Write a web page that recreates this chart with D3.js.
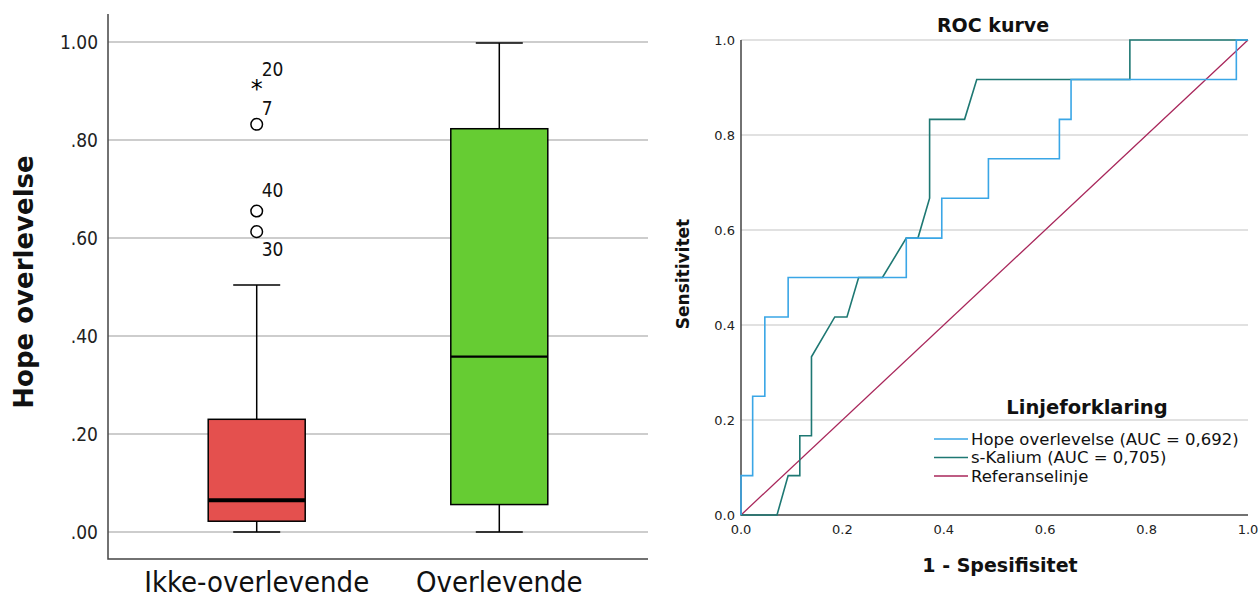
<!DOCTYPE html>
<html>
<head>
<meta charset="utf-8">
<script src="https://cdn.jsdelivr.net/npm/d3@7"></script>
<style>
  body { margin: 0; background: #fff; }
  svg { display: block; }
</style>
</head>
<body>
<div class="chart"></div>
<script>
// box plot data
const groups = ["Ikke-overlevende", "Overlevende"];
const groupColors = ["#e4504e", "#66cc33"];
const whiskerLow = [0.0, 0.0];
const q1 = [0.022, 0.056];
const median = [0.065, 0.358];
const q3 = [0.230, 0.823];
const whiskerHigh = [0.504, 0.998];

const outlierValues = [0.908, 0.832, 0.655, 0.613];
const outlierLabels = ["20", "7", "40", "30"];
const outlierKinds = ["extreme", "out", "out", "out"];

// ROC data
const hopeFpr = [0, 0, 0.023, 0.023, 0.047, 0.047, 0.093, 0.093, 0.326, 0.326, 0.396, 0.396, 0.488, 0.488, 0.628, 0.628, 0.651, 0.651, 0.977, 0.977, 1];
const hopeTpr = [0, 0.083, 0.083, 0.25, 0.25, 0.417, 0.417, 0.5, 0.5, 0.583, 0.583, 0.667, 0.667, 0.75, 0.75, 0.833, 0.833, 0.917, 0.917, 1, 1];
const kaliumFpr = [0, 0.071, 0.093, 0.116, 0.116, 0.139, 0.139, 0.185, 0.209, 0.232, 0.279, 0.326, 0.349, 0.372, 0.372, 0.441, 0.465, 0.767, 0.767, 1];
const kaliumTpr = [0, 0, 0.083, 0.083, 0.167, 0.167, 0.333, 0.417, 0.417, 0.5, 0.5, 0.583, 0.583, 0.667, 0.833, 0.833, 0.917, 0.917, 1, 1];
const refFpr = [0, 1];
const refTpr = [0, 1];

const legendLabels = ["Hope overlevelse (AUC = 0,692)", "s-Kalium (AUC = 0,705)", "Referanselinje"];
const lineColors = ["#3aa6e6", "#1e7873", "#a8265a"];

const width = 1260, height = 600;
const svg = d3.select(".chart").append("svg")
    .attr("width", width)
    .attr("height", height);

const condensed = "'DejaVu Sans Condensed', 'DejaVu Sans', sans-serif";
const sans = "'DejaVu Sans', sans-serif";

// ---------- left: box plot ----------
const left = {x0: 108, x1: 648, top: 14, bottom: 559};
const yL = d3.scaleLinear().domain([0, 1]).range([532, 42]);
const xL = d3.scalePoint().domain(groups).range([left.x0, left.x1]).padding(0.613);

const gL = svg.append("g");

gL.selectAll("line.grid")
    .data(yL.ticks(5))
    .join("line")
    .attr("class", "grid")
    .attr("x1", left.x0).attr("x2", left.x1)
    .attr("y1", d => yL(d)).attr("y2", d => yL(d))
    .attr("stroke", "#bdbdbd")
    .attr("stroke-width", 1.5);

gL.selectAll("text.tick")
    .data(yL.ticks(5))
    .join("text")
    .attr("class", "tick")
    .attr("x", left.x0 - 10)
    .attr("y", d => yL(d))
    .attr("dy", "0.35em")
    .attr("text-anchor", "end")
    .attr("font-family", condensed)
    .attr("font-size", 19)
    .attr("fill", "#222")
    .text(d => d3.format(".2f")(d).replace(/^0/, ""));

gL.append("path")
    .attr("d", `M${left.x0},${left.top}V${left.bottom}H${left.x1}`)
    .attr("fill", "none")
    .attr("stroke", "#444")
    .attr("stroke-width", 1.5);

const boxW = 97, capW = 47;
groups.forEach((g, i) => {
    const cx = xL(g);
    gL.append("line")
        .attr("x1", cx).attr("x2", cx)
        .attr("y1", yL(whiskerLow[i])).attr("y2", yL(whiskerHigh[i]))
        .attr("stroke", "#000").attr("stroke-width", 1.5);
    [whiskerLow[i], whiskerHigh[i]].forEach(v => {
        gL.append("line")
            .attr("x1", cx - capW / 2).attr("x2", cx + capW / 2)
            .attr("y1", yL(v)).attr("y2", yL(v))
            .attr("stroke", "#000").attr("stroke-width", 1.5);
    });
    gL.append("rect")
        .attr("x", cx - boxW / 2)
        .attr("y", yL(q3[i]))
        .attr("width", boxW)
        .attr("height", yL(q1[i]) - yL(q3[i]))
        .attr("fill", groupColors[i])
        .attr("stroke", "#000")
        .attr("stroke-width", 1.5);
    gL.append("line")
        .attr("x1", cx - boxW / 2).attr("x2", cx + boxW / 2)
        .attr("y1", yL(median[i])).attr("y2", yL(median[i]))
        .attr("stroke", "#000")
        .attr("stroke-width", i === 0 ? 4 : 2.2);
    gL.append("text")
        .attr("x", cx)
        .attr("y", 592)
        .attr("text-anchor", "middle")
        .attr("font-family", condensed)
        .attr("font-size", 29)
        .attr("fill", "#111")
        .text(g);
});

// outliers (all in first group)
const ox = xL(groups[0]);
const labelDy = [-18, -16, -21, 18];
outlierValues.forEach((v, i) => {
    if (outlierKinds[i] === "extreme") {
        gL.append("text")
            .attr("x", ox).attr("y", yL(v) + 10)
            .attr("text-anchor", "middle")
            .attr("font-family", sans)
            .attr("font-size", 24)
            .text("*");
    } else {
        gL.append("circle")
            .attr("cx", ox).attr("cy", yL(v))
            .attr("r", 5.8)
            .attr("fill", "#fff")
            .attr("stroke", "#000")
            .attr("stroke-width", 1.5);
    }
    gL.append("text")
        .attr("x", ox + 5)
        .attr("y", yL(v) + labelDy[i])
        .attr("dy", "0.35em")
        .attr("font-family", condensed)
        .attr("font-size", 19)
        .attr("fill", "#111")
        .text(outlierLabels[i]);
});

gL.append("text")
    .attr("transform", "translate(33,282) rotate(-90)")
    .attr("text-anchor", "middle")
    .attr("font-family", sans)
    .attr("font-weight", "bold")
    .attr("font-size", 26)
    .attr("fill", "#111")
    .text("Hope overlevelse");

// ---------- right: ROC curve ----------
const xR = d3.scaleLinear().domain([0, 1]).range([741, 1248]);
const yR = d3.scaleLinear().domain([0, 1]).range([515, 40]);
const gR = svg.append("g");

gR.selectAll("line.grid")
    .data(yR.ticks(5).filter(d => d > 0))
    .join("line")
    .attr("class", "grid")
    .attr("x1", xR(0)).attr("x2", xR(1))
    .attr("y1", d => yR(d)).attr("y2", d => yR(d))
    .attr("stroke", "#c4c4c4")
    .attr("stroke-width", 1.2);

gR.selectAll("text.ytick")
    .data(yR.ticks(5))
    .join("text")
    .attr("class", "ytick")
    .attr("x", xR(0) - 6)
    .attr("y", d => yR(d))
    .attr("dy", "0.35em")
    .attr("text-anchor", "end")
    .attr("font-family", sans)
    .attr("font-size", 13)
    .attr("fill", "#222")
    .text(d3.format(".1f"));

gR.selectAll("text.xtick")
    .data(xR.ticks(5))
    .join("text")
    .attr("class", "xtick")
    .attr("x", d => xR(d))
    .attr("y", 534)
    .attr("text-anchor", "middle")
    .attr("font-family", sans)
    .attr("font-size", 13)
    .attr("fill", "#222")
    .text(d3.format(".1f"));

gR.append("path")
    .attr("d", `M${xR(0)},${yR(1)}V${yR(0)}H${xR(1)}`)
    .attr("fill", "none")
    .attr("stroke", "#444")
    .attr("stroke-width", 1.5);

const line = d3.line().x(d => xR(d[0])).y(d => yR(d[1]));
const curves = [
    d3.zip(hopeFpr, hopeTpr),
    d3.zip(kaliumFpr, kaliumTpr),
    d3.zip(refFpr, refTpr)
];
gR.selectAll("path.curve")
    .data([curves[2], curves[1], curves[0]])
    .join("path")
    .attr("class", "curve")
    .attr("d", line)
    .attr("fill", "none")
    .attr("stroke", (d, i) => lineColors[2 - i])
    .attr("stroke-width", (d, i) => i === 0 ? 1.3 : 1.6);

gR.append("text")
    .attr("x", 993).attr("y", 32)
    .attr("text-anchor", "middle")
    .attr("font-family", sans)
    .attr("font-weight", "bold")
    .attr("font-size", 19)
    .attr("fill", "#111")
    .text("ROC kurve");

gR.append("text")
    .attr("x", 1000).attr("y", 572)
    .attr("text-anchor", "middle")
    .attr("font-family", sans)
    .attr("font-weight", "bold")
    .attr("font-size", 19)
    .attr("fill", "#111")
    .text("1 - Spesifisitet");

gR.append("text")
    .attr("transform", "translate(689,274) rotate(-90)")
    .attr("text-anchor", "middle")
    .attr("font-family", sans)
    .attr("font-weight", "bold")
    .attr("font-size", 17)
    .attr("fill", "#111")
    .text("Sensitivitet");

// legend
const legend = gR.append("g");
legend.append("text")
    .attr("x", 1087).attr("y", 414)
    .attr("text-anchor", "middle")
    .attr("font-family", sans)
    .attr("font-weight", "bold")
    .attr("font-size", 19.5)
    .attr("fill", "#111")
    .text("Linjeforklaring");

legendLabels.forEach((lab, i) => {
    const y = 439 + i * 18.5;
    legend.append("line")
        .attr("x1", 934).attr("x2", 968)
        .attr("y1", y).attr("y2", y)
        .attr("stroke", lineColors[i])
        .attr("stroke-width", 1.5);
    legend.append("text")
        .attr("x", 971).attr("y", y)
        .attr("dy", "0.35em")
        .attr("font-family", sans)
        .attr("font-size", 16.5)
        .attr("fill", "#111")
        .text(lab);
});
</script>
</body>
</html>
